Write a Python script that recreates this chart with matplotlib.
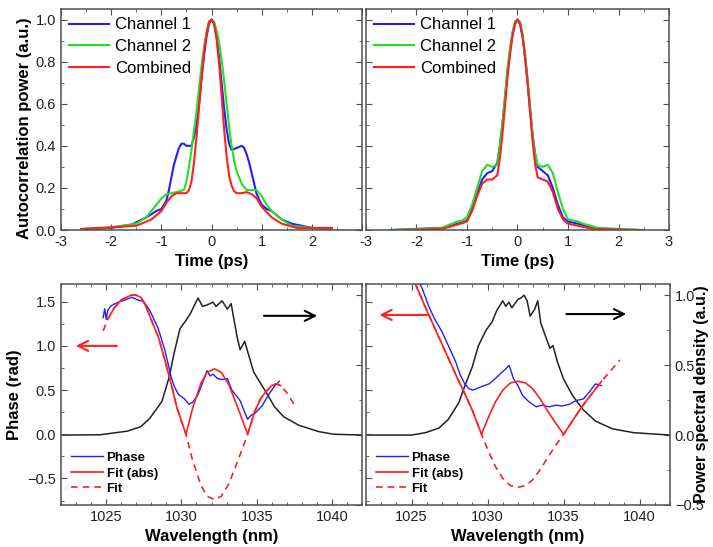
import numpy as np
import matplotlib
matplotlib.use("Agg")
from matplotlib import pyplot as plt
from matplotlib.ticker import MultipleLocator

plt.rcParams['font.family'] = ['Liberation Sans', 'DejaVu Sans']
plt.rcParams['font.size'] = 10.5

# ---- autocorrelation, left panel (time in ps)
t_l_ch1 = [-2.5, -2.0, -1.6, -1.3, -1.1, -1.0, -0.9, -0.85, -0.8, -0.75, -0.7, -0.65, -0.6, -0.55, -0.5, -0.4,
           -0.35, -0.3, -0.25, -0.2, -0.15, -0.1, -0.05, 0.0, 0.05, 0.1, 0.15, 0.2, 0.25, 0.3, 0.35, 0.4,
           0.5, 0.6, 0.65, 0.7, 0.75, 0.8, 0.85, 0.9, 1.0, 1.1, 1.2, 1.4, 1.6, 2.0, 2.4]
p_l_ch1 = [0.005, 0.01, 0.025, 0.06, 0.09, 0.10, 0.14, 0.19, 0.25, 0.31, 0.35, 0.39, 0.41, 0.41, 0.40, 0.40,
           0.44, 0.50, 0.60, 0.72, 0.83, 0.92, 0.98, 1.0, 0.98, 0.92, 0.82, 0.70, 0.58, 0.48, 0.41, 0.38,
           0.39, 0.40, 0.39, 0.36, 0.32, 0.27, 0.22, 0.17, 0.12, 0.10, 0.09, 0.05, 0.03, 0.01, 0.005]
t_l_ch2 = [-2.4, -1.5, -1.3, -1.1, -1.0, -0.9, -0.7, -0.55, -0.5, -0.45, -0.4, -0.35, -0.3, -0.25, -0.2, -0.15,
           -0.1, -0.05, 0.0, 0.05, 0.1, 0.15, 0.2, 0.25, 0.3, 0.35, 0.4, 0.45, 0.5, 0.6, 0.7, 0.8, 0.9,
           1.0, 1.1, 1.2, 1.4, 1.6, 2.0, 2.4]
p_l_ch2 = [0.0, 0.03, 0.06, 0.12, 0.15, 0.17, 0.18, 0.19, 0.23, 0.30, 0.38, 0.47, 0.56, 0.67, 0.78, 0.87,
           0.94, 0.99, 1.0, 0.99, 0.95, 0.89, 0.81, 0.71, 0.60, 0.49, 0.40, 0.33, 0.28, 0.22, 0.19, 0.19, 0.19,
           0.16, 0.12, 0.09, 0.05, 0.02, 0.01, 0.005]
t_l_comb = [-2.6, -1.5, -1.2, -1.0, -0.9, -0.8, -0.7, -0.5, -0.45, -0.4, -0.35, -0.3, -0.25, -0.2, -0.15, -0.1,
            -0.05, 0.0, 0.05, 0.1, 0.15, 0.2, 0.25, 0.3, 0.35, 0.4, 0.45, 0.5, 0.6, 0.7, 0.8, 0.9, 1.0,
            1.2, 1.4, 1.7, 2.4]
p_l_comb = [0.005, 0.02, 0.05, 0.09, 0.13, 0.16, 0.175, 0.175, 0.19, 0.23, 0.32, 0.44, 0.58, 0.72, 0.84, 0.93,
            0.99, 1.0, 0.98, 0.91, 0.79, 0.64, 0.48, 0.35, 0.26, 0.21, 0.185, 0.175, 0.175, 0.18, 0.17, 0.15, 0.11,
            0.06, 0.03, 0.01, 0.01]

# ---- autocorrelation, right panel
t_r_ch1 = [-2.5, -1.5, -1.3, -1.2, -1.1, -1.0, -0.9, -0.8, -0.7, -0.6, -0.5, -0.4, -0.35, -0.3, -0.25, -0.2,
           -0.15, -0.1, -0.05, 0.0, 0.05, 0.1, 0.15, 0.2, 0.25, 0.3, 0.35, 0.4, 0.5, 0.6, 0.7, 0.8, 0.9,
           1.0, 1.2, 1.5, 2.0]
p_r_ch1 = [0.0, 0.01, 0.02, 0.03, 0.035, 0.045, 0.10, 0.17, 0.24, 0.27, 0.28, 0.32, 0.40, 0.50, 0.62, 0.75,
           0.85, 0.93, 0.98, 1.0, 0.98, 0.92, 0.82, 0.70, 0.57, 0.45, 0.36, 0.30, 0.28, 0.26, 0.20, 0.12, 0.06,
           0.04, 0.03, 0.01, 0.0]
t_r_ch2 = [-2.5, -1.5, -1.2, -1.1, -1.0, -0.9, -0.8, -0.7, -0.6, -0.5, -0.4, -0.35, -0.3, -0.25, -0.2, -0.15,
           -0.1, -0.05, 0.0, 0.05, 0.1, 0.15, 0.2, 0.25, 0.3, 0.35, 0.4, 0.5, 0.6, 0.7, 0.8, 0.9, 1.0,
           1.2, 1.3, 1.6, 2.5]
p_r_ch2 = [0.0, 0.01, 0.04, 0.045, 0.06, 0.12, 0.20, 0.28, 0.31, 0.30, 0.31, 0.40, 0.50, 0.63, 0.76, 0.86,
           0.94, 0.99, 1.0, 0.99, 0.93, 0.84, 0.72, 0.58, 0.45, 0.36, 0.31, 0.30, 0.31, 0.27, 0.18, 0.10, 0.05,
           0.04, 0.03, 0.01, 0.0]
t_r_comb = [-2.3, -1.5, -1.2, -1.0, -0.9, -0.8, -0.7, -0.6, -0.5, -0.4, -0.35, -0.3, -0.25, -0.2, -0.15, -0.1,
            -0.05, 0.0, 0.05, 0.1, 0.15, 0.2, 0.25, 0.3, 0.35, 0.4, 0.5, 0.6, 0.7, 0.8, 0.9, 1.0,
            1.2, 1.5, 2.4]
p_r_comb = [0.0, 0.005, 0.025, 0.04, 0.09, 0.16, 0.22, 0.24, 0.24, 0.26, 0.34, 0.45, 0.58, 0.72, 0.83, 0.92,
            0.98, 1.0, 0.98, 0.92, 0.82, 0.70, 0.56, 0.42, 0.31, 0.25, 0.24, 0.23, 0.18, 0.10, 0.05, 0.03,
            0.02, 0.005, 0.0]

# ---- spectral phase, left panel (wavelength in nm)
wl_spec_l = [1022.0, 1024.6, 1026.4, 1027.3, 1027.9, 1028.7, 1029.2, 1029.5, 1029.9, 1030.3, 1030.6, 1031.1,
             1031.4, 1031.7, 1032.1, 1032.3, 1032.7, 1033.05, 1033.3, 1033.7, 1033.9, 1034.2, 1034.5, 1034.8,
             1035.6, 1036.2, 1036.8, 1037.8, 1039.1, 1040.1, 1042.0]
spec_l = [0.0, 0.002, 0.028, 0.06, 0.12, 0.24, 0.42, 0.58, 0.76, 0.82, 0.87, 0.98,
          0.92, 0.93, 0.95, 0.92, 0.96, 0.90, 0.94, 0.70, 0.61, 0.67, 0.56, 0.45,
          0.31, 0.20, 0.13, 0.07, 0.025, 0.006, 0.0]
wl_phase_l = [1024.8, 1024.9, 1025.0, 1025.1, 1025.3, 1025.5, 1025.9, 1026.25, 1026.7, 1027.1, 1027.5, 1027.9,
              1028.45, 1028.9, 1029.3, 1029.5, 1029.8, 1030.2, 1030.5, 1030.75, 1031.1, 1031.4, 1031.7, 1031.9,
              1032.1, 1032.4, 1032.7, 1033.05, 1033.35, 1033.9, 1034.2, 1034.4, 1034.6, 1034.9, 1035.35, 1035.8,
              1036.2, 1036.4, 1036.5]
phase_l = [1.32, 1.42, 1.30, 1.40, 1.45, 1.47, 1.50, 1.52, 1.55, 1.52, 1.50, 1.40,
           1.20, 0.95, 0.66, 0.55, 0.45, 0.40, 0.34, 0.36, 0.45, 0.58, 0.72, 0.66,
           0.68, 0.63, 0.62, 0.63, 0.50, 0.38, 0.25, 0.17, 0.21, 0.24, 0.32, 0.45,
           0.55, 0.58, 0.60]
wl_fit_l = [1024.8, 1025.1, 1025.5, 1026.0, 1026.6, 1026.9, 1027.3, 1027.6, 1027.8, 1028.1, 1028.45, 1028.9,
            1029.3, 1029.7, 1030.3, 1030.75, 1031.3, 1031.7, 1032.2, 1032.65, 1033.15, 1033.7, 1034.4,
            1034.85, 1035.25, 1035.6, 1036.0, 1036.3, 1036.6, 1037.0, 1037.55]
fit_l = [1.17, 1.30, 1.42, 1.52, 1.57, 1.58, 1.55, 1.46, 1.38, 1.25, 1.11, 0.84,
         0.58, 0.30, 0.0, -0.30, -0.58, -0.70, -0.74, -0.70, -0.56, -0.32, 0.0,
         0.25, 0.40, 0.48, 0.55, 0.57, 0.55, 0.47, 0.32]

# ---- spectral phase, right panel
wl_spec_r = [1022.0, 1025.0, 1025.9, 1026.8, 1027.4, 1028.1, 1028.5, 1029.0, 1029.4, 1029.9, 1030.3, 1030.6,
             1031.0, 1031.2, 1031.4, 1031.6, 1032.0, 1032.2, 1032.4, 1032.6, 1032.8, 1033.1, 1033.3, 1033.5,
             1033.8, 1034.1, 1034.3, 1034.6, 1035.0, 1035.6, 1036.3, 1037.1, 1038.2, 1039.6, 1042.0]
spec_r = [0.0, 0.0, 0.017, 0.05, 0.11, 0.23, 0.35, 0.49, 0.64, 0.75, 0.81, 0.89,
          0.96, 0.92, 0.95, 0.91, 0.97, 0.98, 1.0, 0.96, 0.85, 0.90, 0.96, 0.80,
          0.71, 0.62, 0.64, 0.52, 0.40, 0.28, 0.18, 0.10, 0.045, 0.017, 0.0]
wl_phase_r = [1025.4, 1025.7, 1026.1, 1026.5, 1027.0, 1027.4, 1027.9, 1028.2, 1028.5, 1028.75, 1029.0, 1029.2,
              1029.6, 1030.1, 1030.5, 1031.0, 1031.2, 1031.4, 1031.5, 1031.7, 1032.0, 1032.3, 1032.7, 1033.2,
              1033.6, 1034.05, 1034.5, 1034.9, 1035.4, 1035.8, 1036.3, 1036.7, 1037.1, 1037.5]
phase_r = [1.75, 1.65, 1.46, 1.31, 1.16, 1.01, 0.82, 0.67, 0.57, 0.52, 0.50, 0.51,
           0.54, 0.57, 0.63, 0.71, 0.74, 0.78, 0.74, 0.63, 0.55, 0.44, 0.37, 0.31,
           0.33, 0.31, 0.33, 0.32, 0.34, 0.38, 0.40, 0.48, 0.57, 0.55]
wl_fit_r = [1024.9, 1025.5, 1026.0, 1026.5, 1027.0, 1027.5, 1028.0, 1028.5, 1029.0, 1029.6,
            1030.0, 1030.5, 1031.0, 1031.5, 1032.0, 1032.5, 1033.0, 1033.5, 1034.0, 1034.5, 1035.0,
            1035.5, 1036.0, 1036.5, 1037.0, 1037.5, 1038.0, 1038.7]
fit_r = [1.84, 1.60, 1.40, 1.21, 1.02, 0.83, 0.64, 0.46, 0.27, 0.0,
         -0.17, -0.36, -0.50, -0.58, -0.60, -0.58, -0.51, -0.39, -0.25, -0.12, 0.0,
         0.13, 0.26, 0.38, 0.49, 0.60, 0.70, 0.84]

# range where the |fit| is drawn solid
abs_range_l = (1025.1, 1036.6)
abs_range_r = (1024.9, 1037.5)

BLUE = '#2020ff'
GREEN = '#22e022'
RED = '#ff2020'
SPINE = '#505050'

fig = plt.figure(figsize=(7.13, 5.47), dpi=100)
ax_tl = fig.add_axes([0.0856, 0.5795, 0.4222, 0.404])
ax_tr = fig.add_axes([0.5133, 0.5795, 0.4250, 0.404])
ax_bl = fig.add_axes([0.0856, 0.0768, 0.4222, 0.404])
ax_br = fig.add_axes([0.5133, 0.0768, 0.4264, 0.404])


def style_axis(ax):
    for s in ax.spines.values():
        s.set_color(SPINE)
        s.set_linewidth(1.1)
    ax.tick_params(which='both', direction='in', top=True, right=True, color=SPINE, labelcolor='#222222')
    ax.tick_params(which='major', length=4)
    ax.tick_params(which='minor', length=2.5)


# top panels
for ax, data in [(ax_tl, (t_l_ch1, p_l_ch1, t_l_ch2, p_l_ch2, t_l_comb, p_l_comb)),
                 (ax_tr, (t_r_ch1, p_r_ch1, t_r_ch2, p_r_ch2, t_r_comb, p_r_comb))]:
    ax.plot(data[0], data[1], color=BLUE, lw=1.5, label='Channel 1')
    ax.plot(data[2], data[3], color=GREEN, lw=1.5, label='Channel 2')
    ax.plot(data[4], data[5], color=RED, lw=1.5, label='Combined')
    ax.set_xlim(-3, 3)
    ax.set_ylim(0, 1.05)
    ax.xaxis.set_major_locator(MultipleLocator(1))
    ax.xaxis.set_minor_locator(MultipleLocator(0.5))
    ax.yaxis.set_major_locator(MultipleLocator(0.2))
    ax.yaxis.set_minor_locator(MultipleLocator(0.1))
    style_axis(ax)
    ax.set_xlabel('Time (ps)', fontweight='bold', fontsize=12)
    ax.legend(loc='upper left', frameon=False, fontsize=12, handlelength=2.4, handletextpad=0.35,
              labelspacing=0.4, borderaxespad=0.3, borderpad=0.2)

ax_tl.set_ylabel('Autocorrelation power (a.u.)', fontweight='bold', fontsize=12)
ax_tl.yaxis.set_label_coords(-0.095, 0.46)
ax_tl.set_yticks([0.0, 0.2, 0.4, 0.6, 0.8, 1.0])
ax_tl.set_yticklabels(['0.0', '0.2', '0.4', '0.6', '0.8', '1.0'])
ax_tl.set_xticks([-3, -2, -1, 0, 1, 2, 3])
ax_tl.set_xticklabels(['-3', '-2', '-1', '0', '1', '2', ''])
ax_tr.set_xticks([-3, -2, -1, 0, 1, 2, 3])
ax_tr.set_xticklabels(['-3', '-2', '-1', '0', '1', '2', '3'])
ax_tr.tick_params(labelleft=False)

# bottom panels
panels = [(ax_bl, wl_spec_l, spec_l, wl_phase_l, phase_l, wl_fit_l, fit_l, abs_range_l),
          (ax_br, wl_spec_r, spec_r, wl_phase_r, phase_r, wl_fit_r, fit_r, abs_range_r)]
for ax, wl_s, s, wl_p, p, wl_f, f, rng in panels:
    tw = ax.twinx()
    tw.plot(wl_s, s, color='#222222', lw=1.1)
    tw.set_ylim(-0.5, 1.08)
    tw.yaxis.set_major_locator(MultipleLocator(0.5))
    tw.yaxis.set_minor_locator(MultipleLocator(0.25))
    tw.tick_params(which='both', direction='in', color=SPINE, labelcolor='#222222')
    tw.tick_params(which='major', length=4)
    tw.tick_params(which='minor', length=2.5)
    for sp in tw.spines.values():
        sp.set_visible(False)

    wl_f = np.array(wl_f)
    f = np.array(f)
    inside = (wl_f >= rng[0]) & (wl_f <= rng[1])
    ax.plot(wl_p, p, color=BLUE, lw=1.0, label='Phase', zorder=3)
    ax.plot(wl_f[inside], np.abs(f[inside]), color=RED, lw=1.2, label='Fit (abs)', zorder=4)
    ax.plot(wl_f, f, color=RED, lw=1.2, ls=(0, (4, 3)), label='Fit', zorder=4)
    ax.set_zorder(tw.get_zorder() + 1)
    ax.patch.set_visible(False)

    ax.set_xlim(1022, 1042)
    ax.set_ylim(-0.8, 1.7)
    ax.xaxis.set_major_locator(MultipleLocator(5))
    ax.xaxis.set_minor_locator(MultipleLocator(1))
    ax.yaxis.set_major_locator(MultipleLocator(0.5))
    ax.yaxis.set_minor_locator(MultipleLocator(0.25))
    style_axis(ax)
    ax.tick_params(right=False, which='both')
    ax.set_xlabel('Wavelength (nm)', fontweight='bold', fontsize=12)
    ax.legend(loc='lower left', frameon=False, prop={'weight': 'bold', 'size': 9.5}, handlelength=2.4,
              handletextpad=0.3, labelspacing=0.25, borderaxespad=0.55, borderpad=0.2)
    if ax is ax_bl:
        tw.tick_params(labelright=False)
        ax.annotate('', xy=(1022.8, 1.0), xytext=(1025.9, 1.0),
                    arrowprops=dict(arrowstyle='->', color=RED, lw=1.5, mutation_scale=18))
        ax.annotate('', xy=(1039.2, 1.34), xytext=(1035.3, 1.34),
                    arrowprops=dict(arrowstyle='->', color='black', lw=1.5, mutation_scale=18))
    else:
        tw.set_ylabel('Power spectral density (a.u.)', fontweight='bold', fontsize=11.5)
        tw.yaxis.set_label_coords(1.08, 0.5)
        ax.tick_params(labelleft=False)
        ax.annotate('', xy=(1022.7, 1.35), xytext=(1026.2, 1.35),
                    arrowprops=dict(arrowstyle='->', color=RED, lw=1.5, mutation_scale=18))
        ax.annotate('', xy=(1039.3, 1.36), xytext=(1035.0, 1.36),
                    arrowprops=dict(arrowstyle='->', color='black', lw=1.5, mutation_scale=18))

ax_bl.set_ylabel('Phase (rad)', fontweight='bold', fontsize=12)

fig.savefig('out.png', dpi=100)
